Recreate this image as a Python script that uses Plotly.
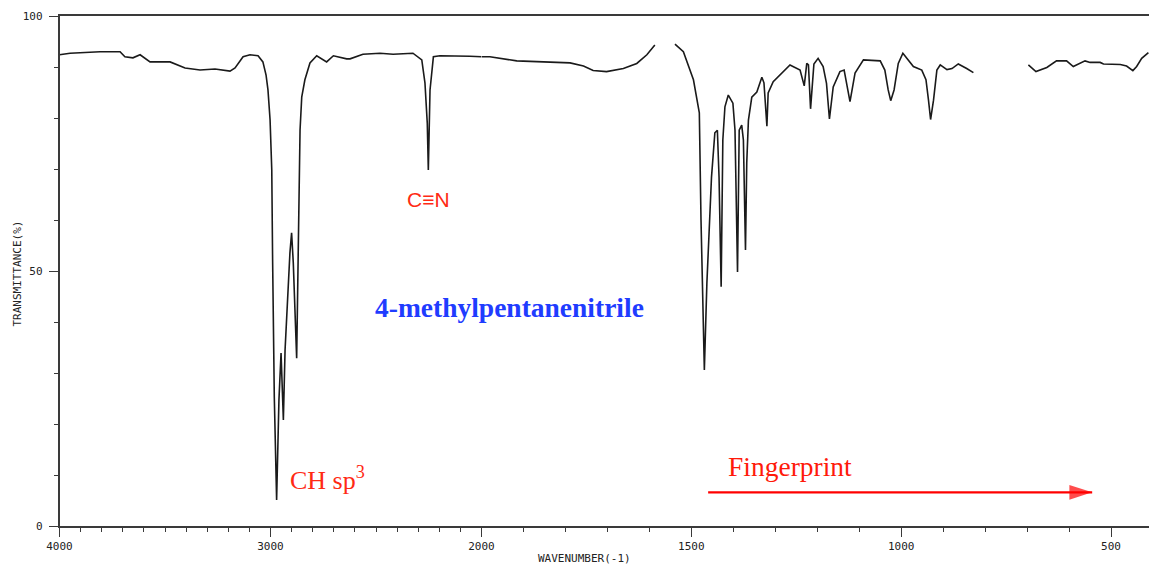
import plotly.graph_objects as go

# ---- data: IR spectrum of 4-methylpentanenitrile ----
# region 4000-2000 cm-1 (compressed scale)
wavenumber_hi = [4000, 3950, 3808, 3713, 3690, 3652, 3618, 3571, 3476, 3405, 3334, 3263,
                 3192, 3168, 3130, 3097, 3059, 3036, 3021, 3012, 3002, 2994, 2990, 2982,
                 2971, 2960, 2950, 2939, 2931, 2916, 2908, 2900, 2892, 2876, 2868, 2860,
                 2852, 2837, 2813, 2781, 2734, 2702, 2639, 2623, 2562, 2481, 2419, 2325,
                 2283, 2268, 2257, 2252, 2244, 2228, 2197, 2118, 2055, 2000]
transmittance_hi = [92.4, 92.7, 93.0, 93.0, 92.0, 91.8, 92.4, 91.0, 91.0, 89.8, 89.4, 89.6,
                    89.2, 89.8, 92.0, 92.4, 92.2, 91.0, 88.4, 85.5, 79.6, 69.8, 52.2, 25.3,
                    5.1, 24.7, 33.9, 20.8, 34.5, 47.6, 53.5, 57.5, 51.6, 32.9, 61.4, 77.6,
                    84.1, 87.5, 90.8, 92.2, 91.0, 92.2, 91.6, 91.6, 92.5, 92.7, 92.5, 92.7,
                    91.4, 86.9, 79.0, 69.8, 85.5, 92.0, 92.2, 92.2, 92.1, 92.0]

# region 2000-400 cm-1 (expanded scale); None = gap in the recorded trace
wavenumber_lo = [2000, 1980, 1916, 1853, 1789, 1757, 1734, 1702, 1662, 1630, 1606, 1587,
                 1563,
                 1539, 1519, 1495, 1481, 1477, 1472, 1469, 1463, 1456, 1452, 1444, 1438,
                 1434, 1429, 1425, 1420, 1412, 1401, 1396, 1390, 1386, 1380, 1376, 1371,
                 1368, 1364, 1356, 1344, 1332, 1327, 1320, 1317, 1305, 1281, 1265, 1241,
                 1231, 1225, 1221, 1216, 1208, 1198, 1186, 1178, 1171, 1162, 1146, 1136,
                 1128, 1122, 1110, 1090, 1050, 1039, 1031, 1025, 1017, 1007, 996, 983,
                 971, 951, 941, 935, 930, 923, 915, 907, 891, 879, 864, 844, 828,
                 760,
                 697, 679, 653, 630, 606, 590, 562, 550, 526, 518, 478, 463, 448, 439,
                 427, 411]
transmittance_lo = [92.0, 92.0, 91.2, 91.0, 90.8, 90.2, 89.3, 89.1, 89.7, 90.7, 92.4, 94.3,
                    None,
                    94.5, 93.0, 87.5, 81.0, 60.0, 39.8, 30.6, 47.6, 59.4, 68.4, 77.1, 77.6,
                    68.4, 46.9, 75.7, 82.2, 84.5, 82.9, 77.6, 49.8, 77.6, 78.6, 75.7, 54.1,
                    71.2, 79.6, 84.1, 85.1, 88.0, 86.9, 78.4, 84.9, 87.1, 89.0, 90.4, 89.4,
                    86.3, 90.7, 90.4, 81.8, 90.6, 91.7, 90.1, 86.8, 79.8, 86.1, 89.1, 89.4,
                    86.1, 83.2, 88.8, 91.4, 91.2, 89.4, 85.5, 83.4, 85.5, 90.7, 92.7, 91.4,
                    90.1, 89.4, 87.5, 83.5, 79.7, 83.5, 89.4, 90.4, 89.5, 89.7, 90.6, 89.7, 88.9,
                    None,
                    90.4, 89.1, 89.9, 91.2, 91.2, 90.1, 91.2, 90.9, 90.9, 90.6, 90.5, 90.2, 89.3, 90.1,
                    91.7, 92.8]

# fingerprint-region arrow (wavenumber span, transmittance level)
fingerprint_span = [1460, 545]
fingerprint_level = [6.6, 6.6]

y_tickvals = [0, 50, 100]
y_ticktext = ["0", "50", "100"]
x_hi_tickvals = [4000, 3000, 2000]
x_hi_ticktext = ["4000", "3000", "2000"]
x_hi_unlabelled = [3500, 2500]
x_lo_tickvals = [1500, 1000, 500]
x_lo_ticktext = ["1500", "1000", "500"]

W, H = 1149, 567
x_left, x_split, x_right = 59.5, 481.5, 1149.0
y_top, y_bot = 16.0, 526.0

LINE = "#1a1a1a"
AXC = "#3a3a3a"
TICKFONT = dict(family="DejaVu Sans Mono", size=11, color="#222")

fig = go.Figure()
fig.add_trace(go.Scatter(x=wavenumber_hi, y=transmittance_hi, mode="lines",
                         line=dict(color=LINE, width=1.6), xaxis="x", yaxis="y",
                         showlegend=False, hoverinfo="skip"))
fig.add_trace(go.Scatter(x=wavenumber_lo, y=transmittance_lo, mode="lines",
                         line=dict(color=LINE, width=1.6), xaxis="x2", yaxis="y",
                         connectgaps=False, showlegend=False, hoverinfo="skip"))
# red arrow: shaft + arrow-head marker at the far end
fig.add_trace(go.Scatter(x=fingerprint_span, y=fingerprint_level, mode="lines+markers",
                         line=dict(color="#ff0000", width=2.2),
                         marker=dict(symbol=["circle", "arrow"], size=[0, 24],
                                     angle=90, color="#ff0000",
                                     line=dict(width=0)),
                         xaxis="x2", yaxis="y", showlegend=False, hoverinfo="skip",
                         cliponaxis=False))

common_x = dict(showline=True, linecolor=AXC, linewidth=1.5, mirror=True,
                showgrid=False, zeroline=False, ticks="outside", ticklen=9,
                tickwidth=1.3, tickcolor=AXC, tickfont=TICKFONT,
                tickmode="array", anchor="y")
minor_x = dict(ticks="outside", ticklen=4, tickwidth=1.3, tickcolor=AXC,
               dtick=100, tick0=0, showgrid=False)

fig.update_layout(
    width=W, height=H,
    margin=dict(l=0, r=0, t=0, b=0, autoexpand=False),
    paper_bgcolor="white", plot_bgcolor="white",
    xaxis=dict(domain=[x_left / W, x_split / W], range=[4000, 2000],
               tickvals=x_hi_tickvals, ticktext=x_hi_ticktext,
               minor=minor_x, **common_x),
    xaxis3=dict(domain=[x_left / W, x_split / W], range=[4000, 2000], overlaying="x",
                anchor="y", side="bottom", showline=False, showgrid=False,
                zeroline=False, ticks="outside", ticklen=9, tickwidth=1.3,
                tickcolor=AXC, tickmode="array", tickvals=x_hi_unlabelled,
                showticklabels=False),
    xaxis2=dict(domain=[x_split / W, x_right / W], range=[2000, 409.6],
                tickvals=x_lo_tickvals, ticktext=x_lo_ticktext,
                minor=minor_x, **common_x),
    yaxis=dict(domain=[1 - y_bot / H, 1 - y_top / H], range=[0, 100], anchor="x",
               showline=True, linecolor=AXC, linewidth=1.5, mirror=False,
               showgrid=False, zeroline=False, ticks="outside", ticklen=9,
               tickwidth=1.3, tickcolor=AXC, tickfont=TICKFONT,
               tickmode="array", tickvals=y_tickvals, ticktext=y_ticktext,
               ticklabelstandoff=4,
               minor=dict(ticks="outside", ticklen=4, tickwidth=1.3, tickcolor=AXC,
                          dtick=10, tick0=0, showgrid=False)),
)

RED = "#ff2a14"
annotations = [
    # axis titles
    dict(text="TRANSMITTANCE(%)", xref="paper", yref="paper", x=16.5 / W, y=1 - 274 / H,
         textangle=-90, showarrow=False, xanchor="center", yanchor="middle",
         font=dict(family="DejaVu Sans Mono", size=11, color="#222")),
    dict(text="WAVENUMBER(-1)", xref="paper", yref="paper", x=584 / W, y=1 - 558 / H,
         showarrow=False, xanchor="center", yanchor="middle",
         font=dict(family="DejaVu Sans Mono", size=11, color="#222")),
    # labels
    dict(text="C≡N", xref="x", yref="y", x=2250, y=64.1, showarrow=False,
         xanchor="center", yanchor="middle",
         font=dict(family="Liberation Sans", size=21, color=RED)),
    dict(text="CH sp<sup>3</sup>", xref="x", yref="y", x=2915, y=9.3, showarrow=False,
         xanchor="left", yanchor="middle",
         font=dict(family="Liberation Serif", size=26, color=RED)),
    dict(text="<b>4-methylpentanenitrile</b>", xref="x2", yref="y", x=1934, y=42.9,
         showarrow=False, xanchor="center", yanchor="middle",
         font=dict(family="Liberation Serif", size=27.5, color="#1f3cff")),
    dict(text="Fingerprint", xref="x2", yref="y", x=1418, y=11.6, showarrow=False,
         xanchor="left", yanchor="middle",
         font=dict(family="Liberation Serif", size=27.5, color="#ff1a0a")),
]
fig.update_layout(annotations=annotations)

fig.write_html("out.html")
